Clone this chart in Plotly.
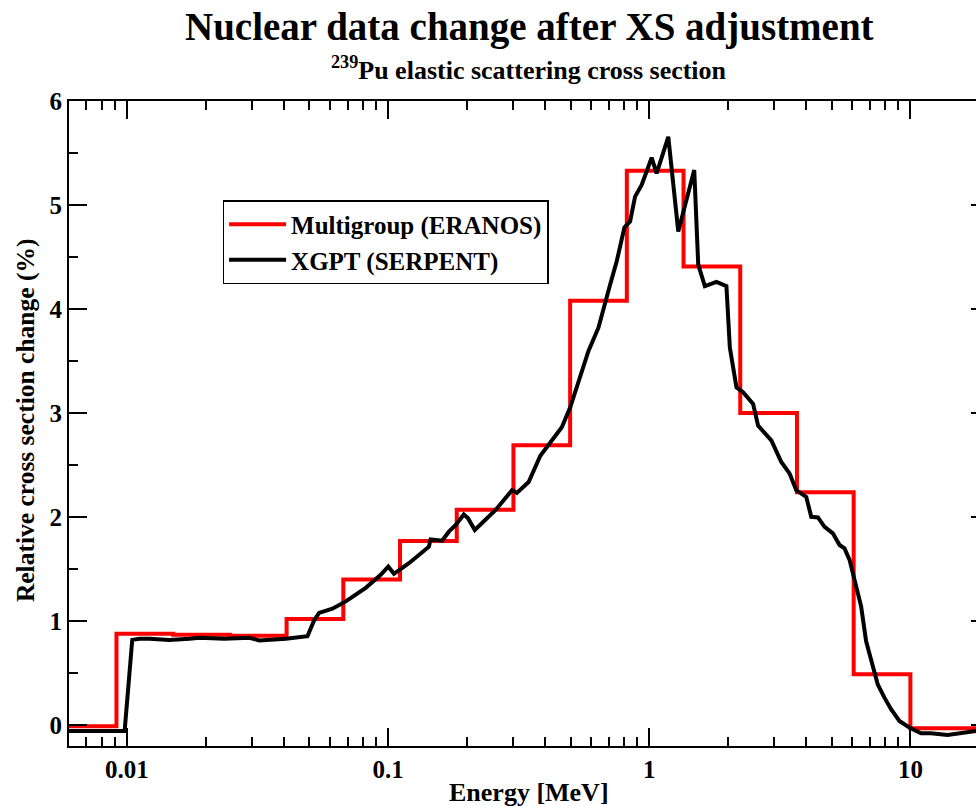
import plotly.graph_objects as go

# ERANOS 33-group energy boundaries (MeV) within the plotted range
group_edges = [0.005531, 0.009119, 0.01503, 0.02479, 0.04087, 0.06738, 0.1111,
               0.1832, 0.3020, 0.4979, 0.8208, 1.353, 2.231, 3.679, 6.065,
               10.0, 19.64]
# Group-wise relative change of the elastic cross section (%)
group_change = [-0.01, 0.88, 0.87, 0.86, 1.02, 1.40, 1.77, 2.07, 2.69, 4.08,
                5.33, 4.41, 3.00, 2.24, 0.49, -0.03]

# Continuous-energy XGPT result (MeV, %)
xgpt_energy = [0.006, 0.0098, 0.01048, 0.01118, 0.01221, 0.01456, 0.01736,
               0.01895, 0.02361, 0.02943, 0.03213, 0.04063, 0.04913, 0.05212,
               0.05445, 0.06121, 0.06886, 0.08212, 0.0937, 0.1002, 0.1053,
               0.1202, 0.1433, 0.1455, 0.1611, 0.1709, 0.1813, 0.1949, 0.2025,
               0.2148, 0.2576, 0.298, 0.3114, 0.3453, 0.3828, 0.4238, 0.4627,
               0.4983, 0.5441, 0.5853, 0.6391, 0.678, 0.7085, 0.7508, 0.8035,
               0.8448, 0.8826, 0.9354, 1.0214, 1.0673, 1.183, 1.2917, 1.4871,
               1.5402, 1.6333, 1.8088, 1.9752, 2.0353, 2.158, 2.288, 2.499,
               2.611, 2.809, 2.935, 3.204, 3.45, 3.656, 3.993, 4.173, 4.425,
               4.694, 5.049, 5.355, 5.596, 5.848, 6.111, 6.477, 6.769, 7.178,
               7.501, 7.956, 8.433, 9.078, 9.913, 10.98, 11.99, 13.88, 15.61,
               17.29, 20.0]
xgpt_change = [-0.055, -0.055, 0.82, 0.83, 0.83, 0.82, 0.83, 0.84, 0.83, 0.84,
               0.815, 0.83, 0.855, 1.01, 1.08, 1.12, 1.19, 1.32, 1.445, 1.525,
               1.455, 1.557, 1.716, 1.786, 1.773, 1.86, 1.923, 2.026, 1.988,
               1.876, 2.067, 2.258, 2.233, 2.338, 2.59, 2.737, 2.864, 3.056,
               3.343, 3.598, 3.821, 4.077, 4.236, 4.459, 4.785, 4.842, 5.081,
               5.193, 5.455, 5.304, 5.656, 4.746, 5.337, 4.428, 4.22, 4.261,
               4.22, 3.63, 3.247, 3.2, 3.088, 2.88, 2.785, 2.737, 2.53, 2.418,
               2.258, 2.194, 2.003, 1.997, 1.907, 1.844, 1.732, 1.70, 1.589,
               1.405, 1.142, 0.807, 0.567, 0.392, 0.265, 0.153, 0.041, -0.022,
               -0.077, -0.077, -0.093, -0.077, -0.054, -0.04]

x_ticks = [0.01, 0.1, 1, 10]
x_tick_labels = ["0.01", "0.1", "1", "10"]
x_minor = [m * 10.0 ** e for e in range(-3, 2) for m in range(2, 10)]
y_ticks = [0, 1, 2, 3, 4, 5, 6]

FONT = "Liberation Serif"
W, H = 992, 806
ML, MR, MT, MB = 69, W - 991.5, 101, H - 746
PLOT_W = W - ML - MR
PLOT_H = H - MT - MB


def px_x(px):
    """Paper x coordinate for a pixel column."""
    return (px - ML) / PLOT_W


def px_y(px):
    """Paper y coordinate for a pixel row measured from the top."""
    return 1 - (px - MT) / PLOT_H


fig = go.Figure()
fig.add_trace(go.Scatter(
    x=group_edges, y=group_change + [group_change[-1]],
    mode="lines", line=dict(color="#ff0000", width=4, shape="hv"),
    name="Multigroup (ERANOS)"))
fig.add_trace(go.Scatter(
    x=xgpt_energy, y=xgpt_change,
    mode="lines", line=dict(color="black", width=4),
    name="XGPT (SERPENT)"))

tickfont = dict(family=FONT, size=25, color="black", weight="bold")
fig.update_xaxes(
    type="log", range=[-2.2218, 1.30103],
    tickvals=x_ticks, ticktext=x_tick_labels, tickfont=tickfont,
    ticks="inside", ticklen=18, tickwidth=2, tickcolor="black",
    minor=dict(tickvals=x_minor, ticks="inside", ticklen=9, tickwidth=2,
               tickcolor="black", showgrid=False),
    showline=True, linewidth=2, linecolor="black", mirror="ticks",
    showgrid=False, zeroline=False)
fig.update_yaxes(
    range=[-0.2, 6], tickvals=y_ticks, tickfont=tickfont,
    ticks="inside", ticklen=18, tickwidth=2, tickcolor="black",
    minor=dict(dtick=0.5, ticks="inside", ticklen=9, tickwidth=2,
               tickcolor="black", showgrid=False),
    showline=True, linewidth=2, linecolor="black", mirror="ticks",
    showgrid=False, zeroline=False)

label_font = dict(family=FONT, size=26, color="black", weight="bold")
fig.add_annotation(text="Nuclear data change after XS adjustment",
                   xref="paper", yref="paper", x=0.5, y=px_y(27),
                   xanchor="center", yanchor="middle", showarrow=False,
                   font=dict(family=FONT, size=39, color="black", weight="bold"))
fig.add_annotation(text="<sup>239</sup>Pu elastic scattering cross section",
                   xref="paper", yref="paper", x=0.5, y=px_y(68),
                   xanchor="center", yanchor="middle", showarrow=False,
                   font=label_font)
fig.add_annotation(text="Energy [MeV]",
                   xref="paper", yref="paper", x=0.5, y=px_y(792),
                   xanchor="center", yanchor="middle", showarrow=False,
                   font=label_font)
fig.add_annotation(text="Relative cross section change (%)",
                   xref="paper", yref="paper", x=px_x(25), y=px_y(420),
                   xanchor="center", yanchor="middle", textangle=-90,
                   showarrow=False,
                   font=dict(family=FONT, size=25.5, color="black",
                             weight="bold"))

fig.update_layout(
    width=W, height=H, autosize=False,
    margin=dict(l=ML, r=MR, t=MT, b=MB, pad=0),
    paper_bgcolor="white", plot_bgcolor="white",
    showlegend=True,
    legend=dict(x=px_x(223), y=px_y(200),
                xanchor="left", yanchor="top",
                bgcolor="white", bordercolor="black", borderwidth=1.5,
                font=dict(family=FONT, size=25, color="black", weight="bold"),
                itemwidth=57, tracegroupgap=0),
)

fig.write_html(
    "out.html",
    post_script="document.documentElement.style.overflow='hidden';"
                "document.body.style.overflow='hidden';"
                "document.body.style.margin='0';")
